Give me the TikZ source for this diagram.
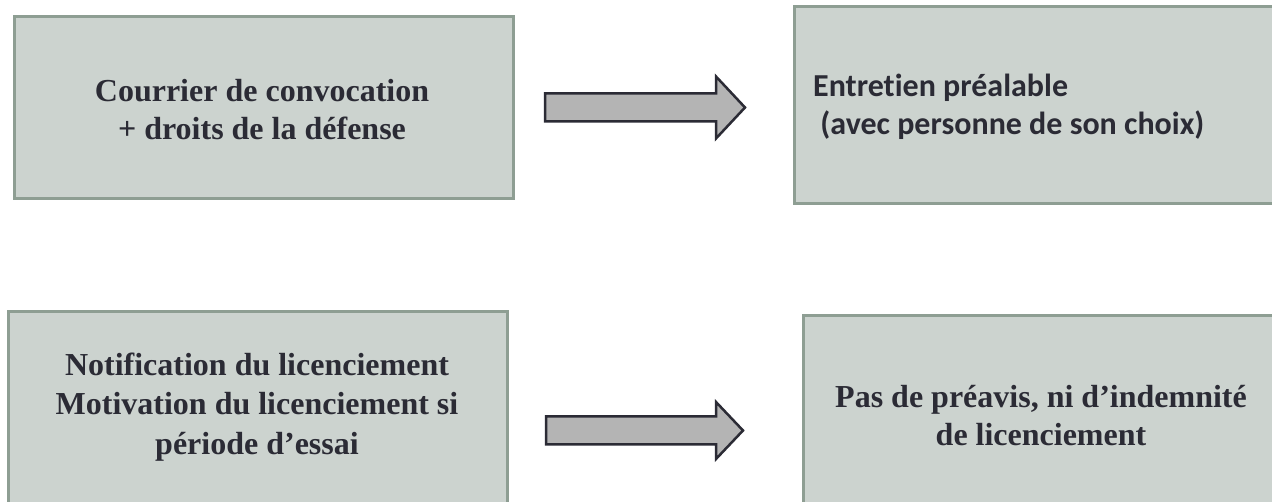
\documentclass[tikz,border=0pt]{standalone}
\usepackage{fontspec}
\setmainfont{Liberation Serif}
\newfontfamily\calibri[Ligatures=NoCommon]{Carlito}
\definecolor{boxfill}{RGB}{204,211,207}
\definecolor{boxline}{RGB}{142,158,147}
\definecolor{ink}{RGB}{43,43,53}
\definecolor{arrowfill}{RGB}{180,180,180}
\begin{document}
\begin{tikzpicture}[x=1pt,y=1pt,
    box/.style={draw=boxline, line width=3pt, fill=boxfill, anchor=north west, inner sep=0pt},
    serif/.style={font=\fontsize{32}{38}\selectfont\bfseries, text=ink, align=center},
    sans/.style={font=\calibri\fontsize{32}{38}\selectfont\bfseries, text=ink, align=left, inner sep=0pt},
    blockarrow/.style={draw=ink, line width=2.5pt, fill=arrowfill, line join=miter}]

    \useasboundingbox (0,0) rectangle (1272,502);
    \clip (0,0) rectangle (1272,502);

    % Draw the boxes
    \node[box, minimum width=499, minimum height=182] (courrier) at (13,487) {};
    \node[box, minimum width=499, minimum height=197] (entretien) at (793,497) {};
    \node[box, minimum width=499, minimum height=200] (notif) at (7,192) {};
    \node[box, minimum width=478, minimum height=200] (preavis) at (802,188) {};

    % Draw the texts
    \node[serif] (courriertxt) at (262,392) {Courrier de convocation\\+ droits de la défense};
    \node[sans, anchor=west] (entretientxt) at (813,395) {Entretien préalable\\~(avec personne de son choix)};
    \node[serif, font=\fontsize{32}{39.5}\selectfont\bfseries] (notiftxt) at (257,95) {Notification du licenciement\\Motivation du licenciement si\\période d’essai};
    \node[serif] (preavistxt) at (1041,86) {Pas de préavis, ni d’indemnité\\de licenciement};

    % Draw the arrows
    \draw[blockarrow] ([shift={(30,-14)}]courrier.east) -- ++(171,0) -- ++(0,-17)
        -- ++(29,31) -- ++(-29,31) -- ++(0,-17) -- ++(-171,0) -- cycle;
    \draw[blockarrow] ([shift={(37,-33)}]notif.east) -- ++(170,0) -- ++(0,-14.5)
        -- ++(27,28.5) -- ++(-27,28.5) -- ++(0,-14.5) -- ++(-170,0) -- cycle;
\end{tikzpicture}
\end{document}
